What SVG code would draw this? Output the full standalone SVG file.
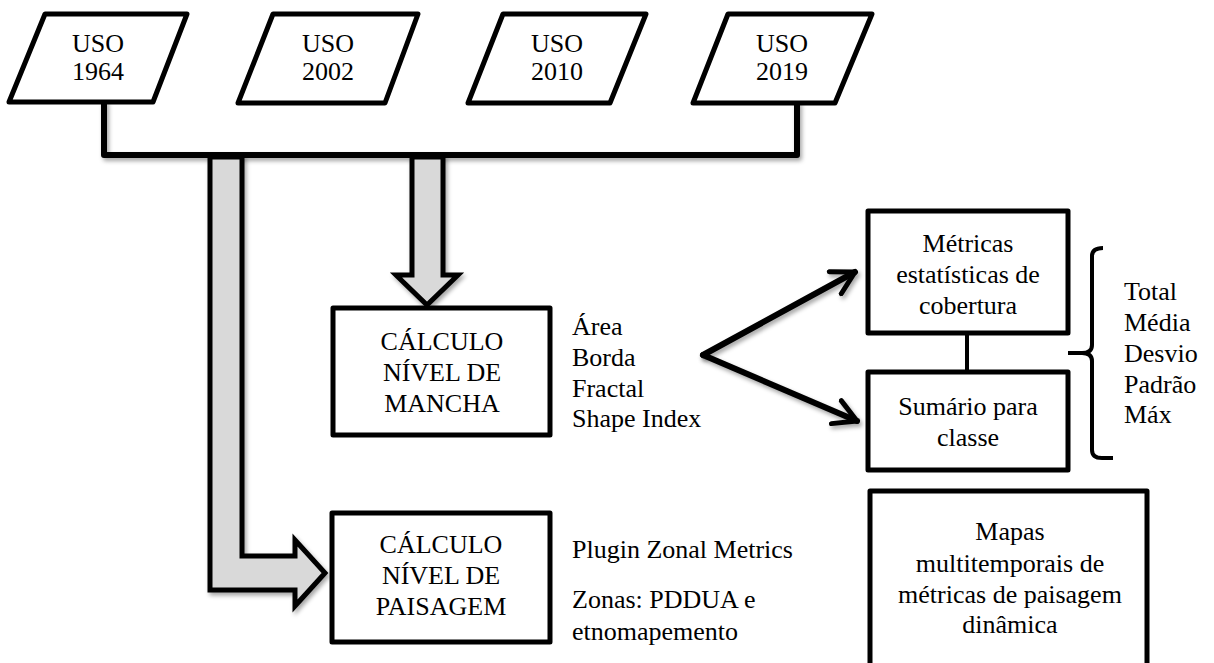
<svg xmlns="http://www.w3.org/2000/svg" width="1214" height="663" viewBox="0 0 1214 663">
<style>
text{font-family:'Liberation Serif','Times New Roman',Times,serif;font-size:26px;fill:#000}
.c{text-anchor:middle}
.box{fill:#fff;stroke:#000;stroke-width:5;stroke-linejoin:round}
.ln{fill:none;stroke:#000;stroke-width:6;stroke-linejoin:round;stroke-linecap:round}
.big{fill:#d9d9d9;stroke:#000;stroke-width:5;stroke-linejoin:miter}
</style>
<defs>
<filter id="sh" x="-10%" y="-10%" width="130%" height="130%">
<feDropShadow dx="2" dy="3" stdDeviation="2" flood-color="#000" flood-opacity="0.35"/>
</filter>
<marker id="ah" viewBox="0 0 12 12" refX="10" refY="6" markerWidth="5" markerHeight="5" markerUnits="strokeWidth" orient="auto">
<path d="M1,1 L10,6 L1,11" fill="none" stroke="#000" stroke-width="2" stroke-linecap="round" stroke-linejoin="round"/>
</marker>
</defs>

<g id="connectors">
<path class="ln" filter="url(#sh)" d="M104,103 L104,155 L797,155 L797,103"/>
<path class="big" filter="url(#sh)" d="M210,157 L242,157 L242,556 L295,556 L295,540 L325,573 L295,606 L295,590 L210,590 Z"/>
<path class="big" filter="url(#sh)" d="M412,157 L443,157 L443,275 L458,275 L427,305 L396,275 L412,275 Z"/>
<path class="ln" filter="url(#sh)" d="M703,355 L855,272" marker-end="url(#ah)"/>
<path class="ln" filter="url(#sh)" d="M703,355 L857,421" marker-end="url(#ah)"/>
<path class="ln" filter="url(#sh)" d="M550,577 L864,577" marker-end="url(#ah)"/>
<path fill="none" stroke="#000" stroke-width="4" d="M967,333 L967,371"/>
</g>

<g id="uso1964">
<polygon class="box" points="45,14 187,14 153,102 9,102"/>
<text class="c" x="98" y="52">USO</text>
<text class="c" x="98" y="80">1964</text>
</g>
<g id="uso2002">
<polygon class="box" points="273,14 418,14 385,103 238,103"/>
<text class="c" x="328" y="52">USO</text>
<text class="c" x="328" y="80">2002</text>
</g>
<g id="uso2010">
<polygon class="box" points="503,14 646,14 610,103 468,103"/>
<text class="c" x="557" y="52">USO</text>
<text class="c" x="557" y="80">2010</text>
</g>
<g id="uso2019">
<polygon class="box" points="728,14 872,14 835,103 693,103"/>
<text class="c" x="782" y="52">USO</text>
<text class="c" x="782" y="80">2019</text>
</g>

<g id="mancha">
<rect class="box" x="333" y="308" width="217" height="127"/>
<text class="c" x="442" y="350">CÁLCULO</text>
<text class="c" x="442" y="381">NÍVEL DE</text>
<text class="c" x="442" y="412">MANCHA</text>
</g>
<g id="mancha-list">
<text x="572" y="335">Área</text>
<text x="572" y="366">Borda</text>
<text x="572" y="397">Fractal</text>
<text x="572" y="427">Shape Index</text>
</g>

<g id="metricas">
<rect class="box" x="868" y="211" width="200" height="122"/>
<text class="c" x="968" y="252">Métricas</text>
<text class="c" x="968" y="283">estatísticas de</text>
<text class="c" x="968" y="314">cobertura</text>
</g>
<g id="sumario">
<rect class="box" x="868" y="372" width="200" height="98"/>
<text class="c" x="968" y="415">Sumário para</text>
<text class="c" x="968" y="446">classe</text>
</g>
<g id="brace">
<path fill="none" stroke="#000" stroke-width="4" stroke-linejoin="round" d="M1103,248 Q1092,248 1092,256 L1092,345 Q1092,353 1082,353 L1068,353 M1082,353 Q1092,353 1092,361 L1092,450 Q1092,458 1102,458 L1113,458"/>
<text x="1124" y="300">Total</text>
<text x="1124" y="331">Média</text>
<text x="1124" y="362">Desvio</text>
<text x="1124" y="393">Padrão</text>
<text x="1124" y="423">Máx</text>
</g>

<g id="paisagem">
<rect class="box" x="332" y="513" width="218" height="129"/>
<text class="c" x="441" y="553">CÁLCULO</text>
<text class="c" x="441" y="584">NÍVEL DE</text>
<text class="c" x="441" y="615">PAISAGEM</text>
</g>
<g id="paisagem-labels">
<text x="572" y="558">Plugin Zonal Metrics</text>
<text x="572" y="608">Zonas: PDDUA e</text>
<text x="572" y="640">etnomapemento</text>
</g>

<g id="mapas">
<path class="box" d="M870,670 L870,491 L1147,491 L1147,670"/>
<text class="c" x="1010" y="540">Mapas</text>
<text class="c" x="1010" y="572">multitemporais de</text>
<text class="c" x="1010" y="603">métricas de paisagem</text>
<text class="c" x="1010" y="633">dinâmica</text>
</g>
</svg>
